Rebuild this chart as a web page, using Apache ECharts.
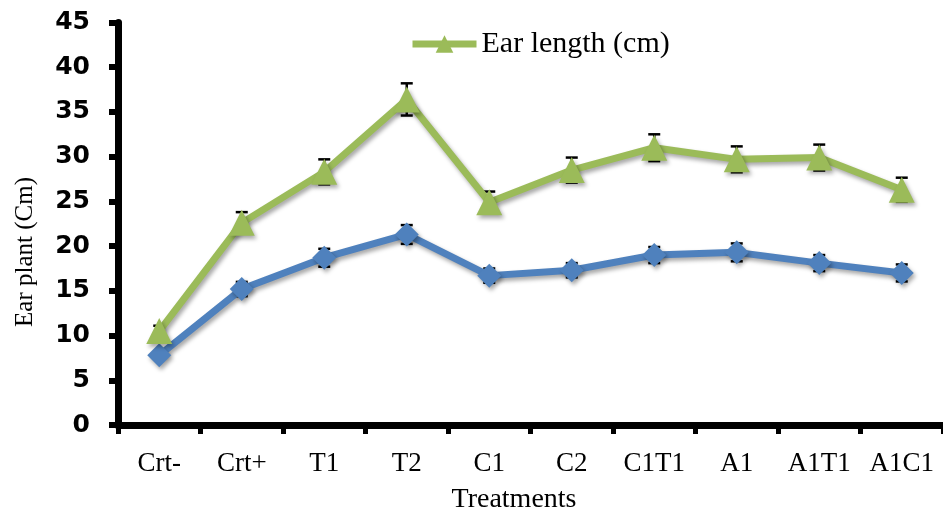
<!DOCTYPE html>
<html><head><meta charset="utf-8">
<script src="https://cdn.jsdelivr.net/npm/echarts@6/dist/echarts.min.js"></script>
<style>html,body{margin:0;padding:0;background:#fff}#c{width:943px;height:515px}</style>
</head><body><div id="c"></div>
<script>
var categories = ['Crt-','Crt+','T1','T2','C1','C2','C1T1','A1','A1T1','A1C1'];
var earLength = [10.5, 22.6, 28.3, 36.4, 24.9, 28.5, 31.0, 29.7, 29.9, 26.3];
var earLengthErr = [0.6, 1.2, 1.4, 1.8, 1.2, 1.4, 1.5, 1.45, 1.45, 1.35];
var earPlant = [7.8, 15.2, 18.7, 21.3, 16.7, 17.3, 19.0, 19.3, 18.1, 17.0];
var earPlantErr = [0.4, 0.8, 1.0, 1.05, 0.8, 0.8, 0.9, 1.0, 0.9, 0.95];
var yTicks = [0, 5, 10, 15, 20, 25, 30, 35, 40, 45];

var chart = echarts.init(document.getElementById('c'), null, {renderer:'canvas'});
function errData(vals, errs){ return vals.map(function(v,i){ return [i, v - errs[i], v + errs[i]]; }); }
function errRender(params, api){
  var x = api.value(0);
  var lo = api.coord([x, api.value(1)]);
  var hi = api.coord([x, api.value(2)]);
  var hw = 6;
  var st = {stroke:'#000', lineWidth:2.5};
  return {type:'group', children:[
    {type:'line', shape:{x1:lo[0],y1:lo[1],x2:hi[0],y2:hi[1]}, style:st},
    {type:'line', shape:{x1:lo[0]-hw,y1:lo[1],x2:lo[0]+hw,y2:lo[1]}, style:st},
    {type:'line', shape:{x1:hi[0]-hw,y1:hi[1],x2:hi[0]+hw,y2:hi[1]}, style:st}
  ]};
}
var shadow = {shadowColor:'rgba(0,0,0,0.35)', shadowBlur:4, shadowOffsetX:2, shadowOffsetY:3};
chart.setOption({
  animation:false,
  backgroundColor:'#fff',
  grid:{left:118, right:-3, top:22.5, bottom:90, containLabel:false},
  legend:{
    data:['Ear length (cm)'], left:404, top:24, itemWidth:64, itemHeight:22, itemGap:4,
    lineStyle:{width:7},
    textStyle:{fontFamily:'Liberation Serif', fontSize:30, color:'#000'}
  },
  xAxis:{
    type:'category', data:categories, boundaryGap:true,
    axisLine:{lineStyle:{color:'#000', width:7}},
    axisTick:{show:true, length:9, lineStyle:{color:'#000', width:5}},
    axisLabel:{fontFamily:'Liberation Serif', fontSize:27, color:'#000', margin:25, interval:0}
  },
  yAxis:{
    type:'value', min:yTicks[0], max:yTicks[yTicks.length-1], interval:5,
    axisLine:{show:true, lineStyle:{color:'#000', width:7}},
    axisTick:{show:true, length:9, lineStyle:{color:'#000', width:6}},
    splitLine:{show:false},
    axisLabel:{fontFamily:'DejaVu Sans', fontWeight:'bold', fontSize:25, color:'#000', margin:28}
  },
  graphic:[
    {type:'text', x:25, y:252, rotation:Math.PI/2,
     style:{text:'Ear plant (Cm)', fontFamily:'Liberation Serif', fontSize:25, fill:'#000', textAlign:'center', textVerticalAlign:'middle'}},
    {type:'text', x:514, y:500,
     style:{text:'Treatments', fontFamily:'Liberation Serif', fontSize:28, fill:'#000', textAlign:'center', textVerticalAlign:'middle'}}
  ],
  series:[
    {name:'errPlant', type:'custom', data:errData(earPlant, earPlantErr), renderItem:errRender, z:1, silent:true},
    {name:'errLength', type:'custom', data:errData(earLength, earLengthErr), renderItem:errRender, z:1, silent:true},
    {name:'Ear plant (Cm)', type:'line', data:earPlant, symbol:'diamond', symbolSize:24,
     lineStyle:Object.assign({color:'#4F81BD', width:7}, shadow),
     itemStyle:Object.assign({color:'#4F81BD'}, shadow), z:3},
    {name:'Ear length (cm)', type:'line', data:earLength, symbol:'triangle', symbolSize:26,
     lineStyle:Object.assign({color:'#9BBB59', width:7}, shadow),
     itemStyle:Object.assign({color:'#9BBB59'}, shadow), z:3}
  ]
});
</script></body></html>
